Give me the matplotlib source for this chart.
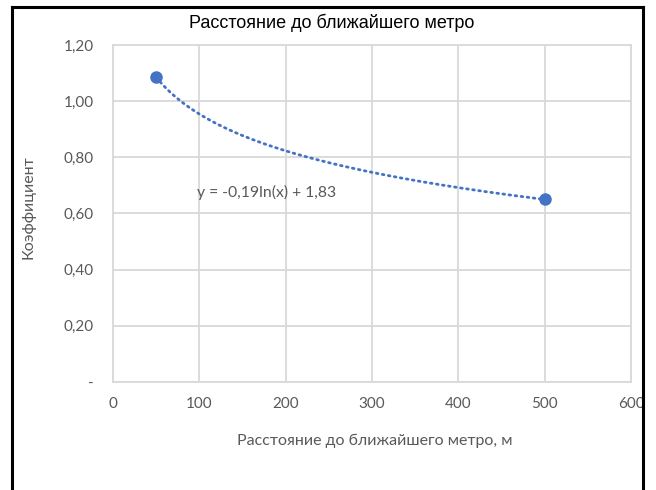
import numpy as np
import matplotlib
matplotlib.use("Agg")
import matplotlib.pyplot as plt
from matplotlib.lines import Line2D

# data
dist = np.array([50, 500])
coef = np.array([1.085, 0.65])
x_ticks = [0, 100, 200, 300, 400, 500, 600]
y_ticks = [0, 0.2, 0.4, 0.6, 0.8, 1.0, 1.2]
y_ticklabels = ["-", "0,20", "0,40", "0,60", "0,80", "1,00", "1,20"]
title = "Расстояние до ближайшего метро"
xlabel = "Расстояние до ближайшего метро, м"
ylabel = "Коэффициент"
eq_text = "y = -0,19ln(x) + 1,83"

blue = "#4472C4"
grey_txt = "#595959"
grid_c = "#D9D9D9"

fig = plt.figure(figsize=(6.56, 4.90), dpi=100)
ax = fig.add_axes([0.1723, 0.2204, 0.7896, 0.6878])

# logarithmic trendline (like excel), fitted on the two points
a, b = np.polyfit(np.log(dist), coef, 1)
xt = np.linspace(dist[0], dist[-1], 200)
ax.plot(xt, a*np.log(xt) + b, color=blue, lw=2.0, linestyle=(0, (0.6, 1.6)),
        dash_capstyle='round', zorder=3)
ax.plot(dist, coef, 'o', color=blue, ms=8, zorder=4)

ax.set_xlim(0, 600)
ax.set_ylim(0, 1.2)
ax.set_xticks(x_ticks)
ax.set_xticklabels([str(v) for v in x_ticks])
ax.set_yticks(y_ticks)
ax.set_yticklabels(y_ticklabels)
ax.tick_params(length=0, labelsize=11, labelcolor=grey_txt)
ax.tick_params(axis='x', pad=11)
ax.tick_params(axis='y', pad=14)
for lab in ax.get_xticklabels() + ax.get_yticklabels():
    lab.set_family("Lato")

ax.grid(True, color=grid_c, lw=1.3)
ax.set_axisbelow(True)
for s in ax.spines.values():
    s.set_color(grid_c)
    s.set_linewidth(1.3)

ax.set_xlabel(xlabel, fontsize=11.5, color=grey_txt, family="Lato")
ax.xaxis.set_label_coords(0.506, -0.154)
ax.set_ylabel(ylabel, fontsize=11.5, color=grey_txt, family="Lato")
ax.yaxis.set_label_coords(-0.15, 0.52)

ax.text(97, 0.676, eq_text, fontsize=11.3, color=grey_txt, family="Lato",
        va='center', ha='left')

fig.text(0.506, 0.953, title, fontsize=13, family="Liberation Sans",
         ha='center', va='center', color='black')

# black frame (top, left, right)
fig.add_artist(Line2D([0.018, 0.018], [0, 0.986], color='black', lw=2.2))
fig.add_artist(Line2D([0.980, 0.980], [0, 0.986], color='black', lw=2.2))
fig.add_artist(Line2D([0.018, 0.980], [0.986, 0.986], color='black', lw=2.2))

fig.savefig("out.png", dpi=100)
